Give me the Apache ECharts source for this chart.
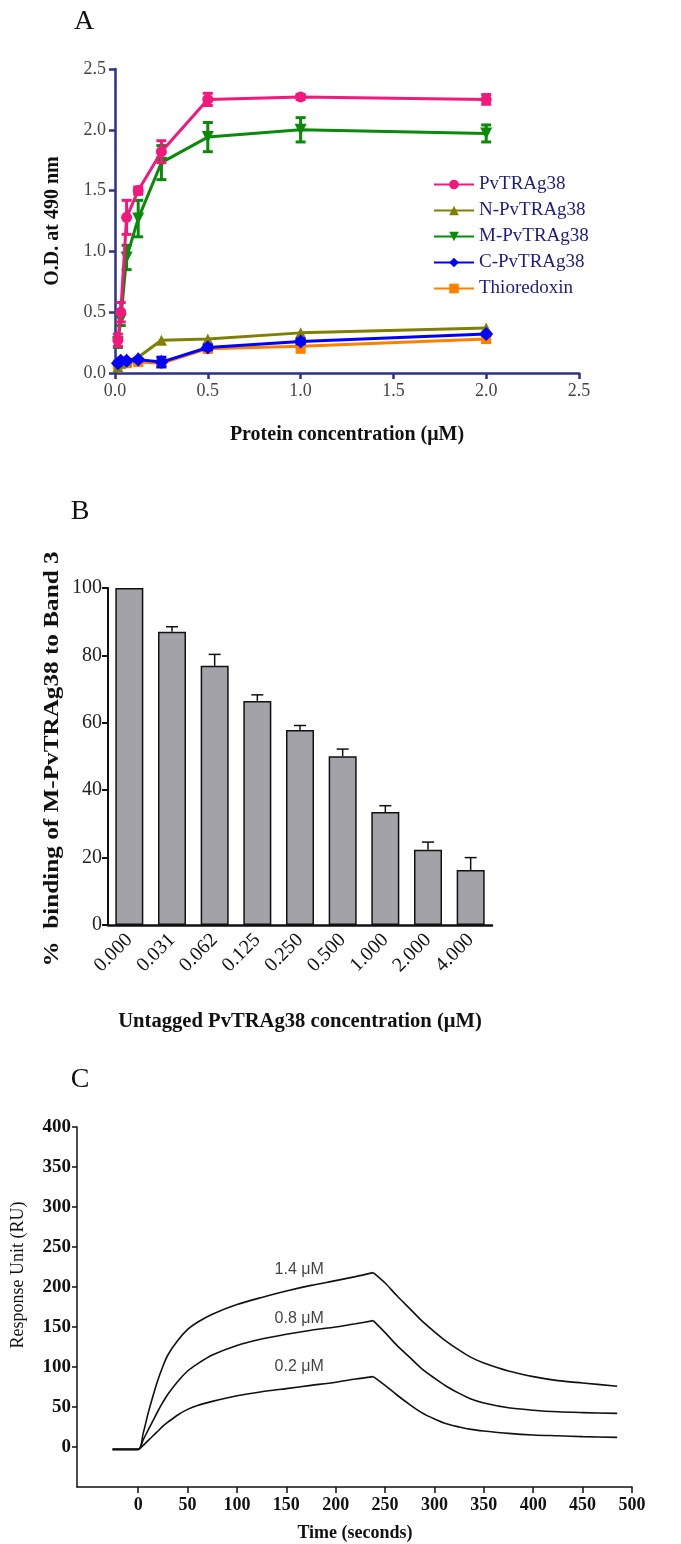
<!DOCTYPE html>
<html><head><meta charset="utf-8">
<script src="https://cdn.jsdelivr.net/npm/echarts@6/dist/echarts.min.js"></script>
<style>html,body{margin:0;padding:0;background:#fff}#c{width:681px;height:1544px}</style>
</head><body><div id="c"></div>
<script>
// ---------- Panel A data ----------
const concA = [0.0156, 0.031, 0.0625, 0.125, 0.25, 0.5, 1.0, 2.0];
const pvtrag38 = [0.27, 0.50, 1.28, 1.50, 1.82, 2.25, 2.27, 2.25];
const pvtrag38Err = [0.05, 0.08, 0.14, 0.03, 0.09, 0.05, 0.02, 0.04];
const nPvtrag38 = [0.05, 0.08, 0.10, 0.13, 0.27, 0.28, 0.33, 0.37];
const mPvtrag38 = [0.25, 0.44, 0.95, 1.27, 1.73, 1.94, 2.00, 1.97];
const mPvtrag38Err = [0.04, 0.05, 0.10, 0.15, 0.14, 0.12, 0.10, 0.07];
const cPvtrag38 = [0.08, 0.10, 0.10, 0.11, 0.09, 0.21, 0.26, 0.32];
const cPvtrag38Err = [0.01, 0.01, 0.01, 0.01, 0.04, 0.02, 0.02, 0.01];
const thioredoxin = [0.07, 0.08, 0.08, 0.09, 0.08, 0.20, 0.22, 0.28];
const thioredoxinErr = [0.01, 0.01, 0.02, 0.02, 0.02, 0.03, 0.05, 0.03];

// ---------- Panel B data ----------
const catsB = ['0.000', '0.031', '0.062', '0.125', '0.250', '0.500', '1.000', '2.000', '4.000'];
const bindingB = [100, 87.0, 76.9, 66.5, 57.9, 50.1, 33.5, 22.3, 16.3];
const bindingErrB = [0, 1.5, 3.4, 1.8, 1.3, 2.1, 1.9, 2.3, 3.7];

// ---------- Panel C data ----------
const tAssoc = [-26, 0, 5, 10, 15, 20, 25, 30, 40, 50, 60, 75, 100, 125, 150, 175, 200, 220, 238];
const tDissoc = [238, 250, 262, 275, 287, 300, 312, 325, 337, 350, 375, 400, 425, 450, 485];
const ru14Assoc = [-3, -3, 17, 42, 64, 84, 101, 115, 133, 147, 156, 166, 178, 187, 195, 202, 208, 213, 218];
const ru14Dissoc = [218, 205, 189, 173, 158, 144, 132, 121, 112, 105, 95, 88, 83, 80, 76];
const ru08Assoc = [-3, -3, 9, 21, 33, 45, 56, 66, 82, 95, 104, 115, 127, 135, 141, 146, 150, 154, 158];
const ru08Dissoc = [158, 143, 127, 112, 98, 86, 76, 67, 60, 55, 49, 46, 44, 43, 42];
const ru02Assoc = [-3, -3, 2, 8, 14, 20, 26, 31, 40, 47, 52, 57, 64, 69, 73, 77, 81, 85, 88];
const ru02Dissoc = [88, 77, 65, 53, 43, 35, 29, 25, 22, 20, 17, 15, 14, 13, 12];
const concLabelsC = ['1.4 μM', '0.8 μM', '0.2 μM'];
const concLabelPosC = [[163, 222], [163, 160], [163, 100]];
const ticksCx = [0, 50, 100, 150, 200, 250, 300, 350, 400, 450, 500];
const ticksCy = [0, 50, 100, 150, 200, 250, 300, 350, 400];

const SERIF = '"Liberation Serif", "Times New Roman", serif';
const NAVY = '#2b3288';
const zip = (xs, ys) => xs.map((x, i) => [x, ys[i]]);
const zip3 = (xs, ys, es) => xs.map((x, i) => [x, ys[i], es[i]]);

function errRender(color, lw, capHalf, upOnly) {
  return function (params, api) {
    const x = api.value(0), y = api.value(1), e = api.value(2);
    if (!e) return null;
    const top = api.coord([x, y + e]);
    const bot = api.coord([x, upOnly ? y : y - e]);
    const st = { stroke: color, lineWidth: lw };
    const ch = [
      { type: 'line', shape: { x1: top[0], y1: top[1], x2: bot[0], y2: bot[1] }, style: st },
      { type: 'line', shape: { x1: top[0] - capHalf, y1: top[1], x2: top[0] + capHalf, y2: top[1] }, style: st }
    ];
    if (!upOnly) ch.push({ type: 'line', shape: { x1: bot[0] - capHalf, y1: bot[1], x2: bot[0] + capHalf, y2: bot[1] }, style: st });
    return { type: 'group', children: ch };
  };
}

function lineA(name, data, color, symbol, rotate, size, z) {
  return {
    name, type: 'line', xAxisIndex: 0, yAxisIndex: 0, data: zip(concA, data),
    symbol, symbolRotate: rotate, symbolSize: size, z,
    lineStyle: { color, width: 3 }, itemStyle: { color }
  };
}
function errA(data, err, color, z) {
  return { type: 'custom', xAxisIndex: 0, yAxisIndex: 0, data: zip3(concA, data, err), renderItem: errRender(color, 3, 5, false), z, silent: true };
}
function lineC(data, times) {
  return { type: 'line', xAxisIndex: 2, yAxisIndex: 2, data: zip(times, data), symbol: 'none', smooth: 0.3, lineStyle: { color: '#111', width: 1.6 } };
}
function txt(x, y, text, font, extra) {
  return Object.assign({ type: 'text', x, y, style: { text, font, fill: '#111', align: 'center', verticalAlign: 'middle', textAlign: 'center', textVerticalAlign: 'middle' } }, extra || {});
}

const chart = echarts.init(document.getElementById('c'), null, { renderer: 'canvas' });
const option = {
  animation: false,
  backgroundColor: '#fff',
  grid: [
    { left: 115, top: 69, width: 464, height: 304 },
    { left: 108, top: 588, width: 384, height: 337 },
    { left: 77, top: 1127, width: 555, height: 360 }
  ],
  legend: {
    left: 428, top: 170, orient: 'vertical', itemWidth: 40, itemHeight: 12, itemGap: 7,
    textStyle: { fontFamily: SERIF, fontSize: 19, color: '#1c1c80' },
    data: ['PvTRAg38', 'N-PvTRAg38', 'M-PvTRAg38', 'C-PvTRAg38', 'Thioredoxin']
  },
  xAxis: [
    {
      gridIndex: 0, type: 'value', min: 0, max: 2.5, interval: 0.5,
      axisLine: { onZero: false, lineStyle: { color: NAVY, width: 2.5 } },
      axisTick: { length: 6, lineStyle: { color: NAVY, width: 2.5 } },
      axisLabel: { color: '#444', fontFamily: SERIF, fontSize: 18, margin: 9, formatter: v => v.toFixed(1) },
      splitLine: { show: false }
    },
    {
      gridIndex: 1, type: 'category', data: catsB,
      axisLine: { lineStyle: { color: '#111', width: 2.5 } },
      axisTick: { alignWithLabel: true, length: 9, lineStyle: { color: '#111', width: 2 } },
      axisLabel: { rotate: 45, color: '#111', fontFamily: SERIF, fontSize: 20, margin: 12 },
      splitLine: { show: false }
    },
    {
      gridIndex: 2, type: 'value', min: -62, max: 500,
      axisLine: { onZero: false, lineStyle: { color: '#111', width: 1.5 } },
      axisTick: { length: 6, customValues: ticksCx, lineStyle: { color: '#111', width: 1.5 } },
      axisLabel: { customValues: ticksCx, color: '#111', fontFamily: SERIF, fontWeight: 'bold', fontSize: 18, margin: 9 },
      splitLine: { show: false }
    }
  ],
  yAxis: [
    {
      gridIndex: 0, type: 'value', min: 0, max: 2.5, interval: 0.5,
      axisLine: { show: true, onZero: false, lineStyle: { color: NAVY, width: 2.5 } },
      axisTick: { show: true, length: 6, lineStyle: { color: NAVY, width: 2.5 } },
      axisLabel: { color: '#444', fontFamily: SERIF, fontSize: 18, margin: 9, formatter: v => v.toFixed(1) },
      splitLine: { show: false }
    },
    {
      gridIndex: 1, type: 'value', min: 0, max: 100, interval: 20,
      axisLine: { show: true, lineStyle: { color: '#111', width: 2 } },
      axisTick: { show: true, length: 6, lineStyle: { color: '#111', width: 2 } },
      axisLabel: { color: '#222', fontFamily: SERIF, fontSize: 20, margin: 6 },
      splitLine: { show: false }
    },
    {
      gridIndex: 2, type: 'value', min: -50, max: 400,
      axisLine: { show: true, onZero: false, lineStyle: { color: '#111', width: 1.5 } },
      axisTick: { show: true, length: 5, customValues: ticksCy, lineStyle: { color: '#111', width: 1.5 } },
      axisLabel: { customValues: ticksCy, color: '#111', fontFamily: SERIF, fontWeight: 'bold', fontSize: 19, margin: 6 },
      splitLine: { show: false }
    }
  ],
  series: [
    errA(thioredoxin, thioredoxinErr, '#ff8000', 2),
    lineA('Thioredoxin', thioredoxin, '#ff8000', 'rect', 0, 10, 2),
    lineA('N-PvTRAg38', nPvtrag38, '#808000', 'triangle', 0, 11, 3),
    errA(cPvtrag38, cPvtrag38Err, '#0000ff', 4),
    lineA('C-PvTRAg38', cPvtrag38, '#0000ff', 'diamond', 0, 14, 4),
    errA(mPvtrag38, mPvtrag38Err, '#0a8a0a', 5),
    lineA('M-PvTRAg38', mPvtrag38, '#0a8a0a', 'triangle', 180, 12, 5),
    errA(pvtrag38, pvtrag38Err, '#f2187c', 6),
    lineA('PvTRAg38', pvtrag38, '#f2187c', 'circle', 0, 11, 6),
    {
      type: 'bar', xAxisIndex: 1, yAxisIndex: 1, data: bindingB, barWidth: 28,
      itemStyle: { color: '#a3a2a8', borderColor: '#111', borderWidth: 1.5 }
    },
    {
      type: 'custom', xAxisIndex: 1, yAxisIndex: 1, data: bindingB.map((v, i) => [i, v, bindingErrB[i]]),
      renderItem: errRender('#111', 1.5, 6, true), z: 3
    },
    lineC(ru14Assoc, tAssoc), lineC(ru14Dissoc, tDissoc),
    lineC(ru08Assoc, tAssoc), lineC(ru08Dissoc, tDissoc),
    lineC(ru02Assoc, tAssoc), lineC(ru02Dissoc, tDissoc),
    {
      type: 'scatter', xAxisIndex: 2, yAxisIndex: 2, symbolSize: 0,
      data: concLabelPosC.map((p, i) => ({ value: p, label: { formatter: concLabelsC[i] } })),
      label: { show: true, position: 'inside', fontFamily: '"Liberation Sans", Arial, sans-serif', fontSize: 16, color: '#111' }
    }
  ],
  graphic: [
    txt(84, 22, 'A', '28px ' + SERIF),
    txt(80, 512, 'B', '28px ' + SERIF),
    txt(80, 1080, 'C', '28px ' + SERIF),
    txt(53, 221, 'O.D. at 490 nm', 'bold 20px ' + SERIF, { rotation: Math.PI / 2 }),
    txt(347, 435, 'Protein concentration (μM)', 'bold 20px ' + SERIF),
    txt(53, 759, '%  binding of M-PvTRAg38 to Band 3', 'bold 21px ' + SERIF, { rotation: Math.PI / 2, scaleX: 1.2 }),
    txt(300, 1022, 'Untagged PvTRAg38 concentration (μM)', 'bold 20px ' + SERIF, { scaleX: 1.03 }),
    txt(18, 1275, 'Response Unit (RU)', '18px ' + SERIF, { rotation: Math.PI / 2 }),
    txt(355, 1533, 'Time (seconds)', 'bold 18px ' + SERIF)
  ]
};
chart.setOption(option);
</script>
</body></html>
